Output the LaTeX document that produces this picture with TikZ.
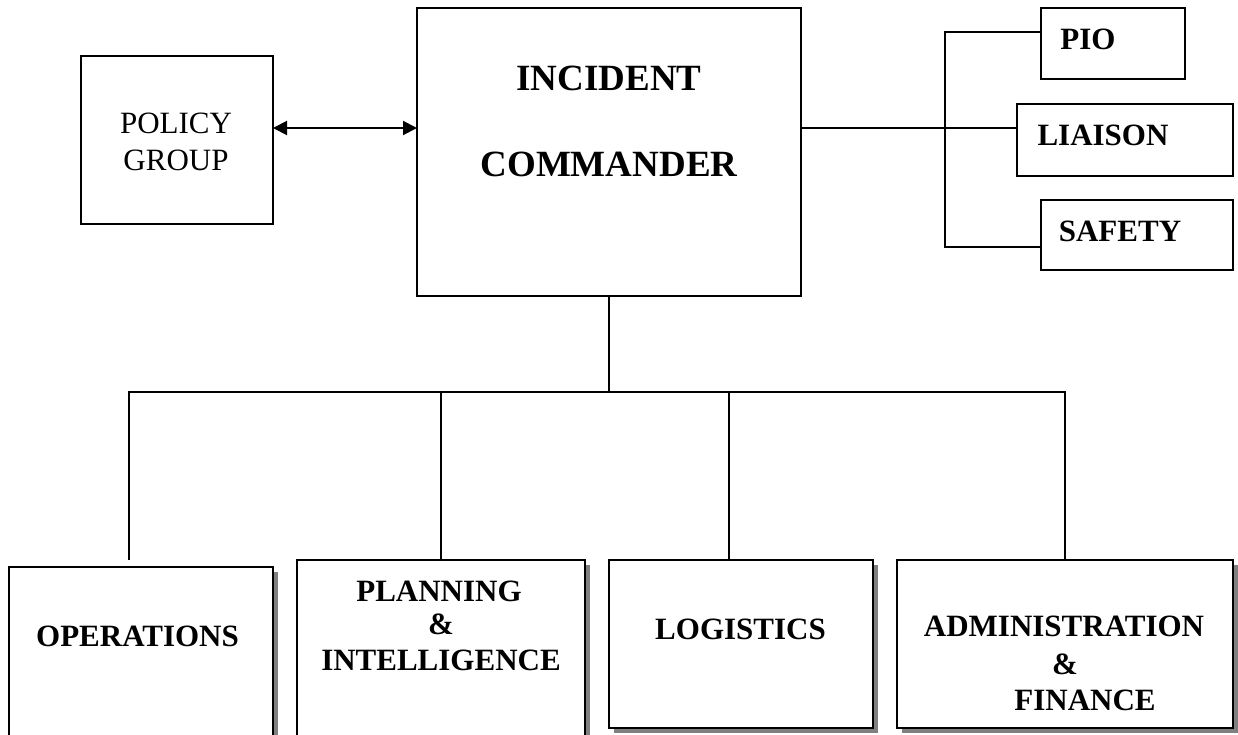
\documentclass[tikz,border=0pt]{standalone}
\usepackage{fontspec}
\setmainfont{Liberation Serif}
\usetikzlibrary{arrows.meta,shadows}
\begin{document}
\begin{tikzpicture}[x=1pt,y=-1pt,
  box/.style={draw, line width=2pt, fill=white, inner sep=0pt, outer sep=0pt},
  sbox/.style={box, drop shadow={shadow xshift=5pt, shadow yshift=-5pt, fill=black!50, opacity=1}},
  conn/.style={line width=2pt},
  dbl/.style={conn, {Triangle[length=14pt,width=14pt]}-{Triangle[length=14pt,width=14pt]}},
  lbl/.style={anchor=base, inner sep=0pt, font=\fontsize{31}{36}\selectfont},
  blbl/.style={lbl, font=\fontsize{31}{36}\selectfont\bfseries},
  tlbl/.style={lbl, font=\fontsize{37}{44}\selectfont\bfseries}]
\clip (0,0) rectangle (1238,734);
\fill[white] (0,0) rectangle (1238,734);

% boxes
\node[box, minimum width=192pt, minimum height=168pt] (policy) at (177,140) {};
\node[box, minimum width=384pt, minimum height=288pt] (ic) at (609,152) {};
\node[box, minimum width=144pt, minimum height=71pt] (pio) at (1113,43.5) {};
\node[box, minimum width=216pt, minimum height=72pt] (liaison) at (1125,140) {};
\node[box, minimum width=192pt, minimum height=70pt] (safety) at (1137,235) {};
\node[sbox, minimum width=264pt, minimum height=193pt] (ops) at (141,663.5) {};
\node[sbox, minimum width=288pt, minimum height=200pt] (plan) at (441,660) {};
\node[sbox, minimum width=264pt, minimum height=168pt] (log) at (741,644) {};
\node[sbox, minimum width=336pt, minimum height=168pt] (admin) at (1065,644) {};

% labels
\node[lbl] (policy-a) at (176,133) {POLICY};
\node[lbl] (policy-b) at (176,170) {GROUP};
\node[tlbl] (ic-a) at (609,90) {INCIDENT};
\node[tlbl] (ic-b) at (609,176.5) {COMMANDER};
\node[blbl] (pio-t) at (1088,49.3) {PIO};
\node[blbl] (liaison-t) at (1103,145) {LIAISON};
\node[blbl] (safety-t) at (1120,241.7) {SAFETY};
\node[blbl] (ops-t) at (137.5,646.7) {OPERATIONS};
\node[blbl] (plan-a) at (439,601) {PLANNING};
\node[blbl] (plan-b) at (441,634) {\&};
\node[blbl] (plan-c) at (441,670) {INTELLIGENCE};
\node[blbl] (log-t) at (740.5,639) {LOGISTICS};
\node[blbl] (admin-a) at (1064,636.7) {ADMINISTRATION};
\node[blbl] (admin-b) at (1065,674) {\&};
\node[blbl] (admin-c) at (1085,710.7) {FINANCE};

% connectors
\coordinate (ay) at (0,128);
\draw[dbl] (policy.east |- ay) -- (ic.west |- ay);
\draw[conn] (ic.east |- ay) -- (liaison.west |- ay);
\coordinate (bt) at (945,32);
\coordinate (bb) at (945,247);
\draw[conn] (pio.west |- bt) -- (bt) -- (bb) -- (safety.west |- bb);

\coordinate (hl) at (129,392);
\coordinate (hr) at (1065,392);
\coordinate (opsend) at (129,560);
\coordinate (lx) at (729,392);
\draw[conn] (ic.south) -- (ic.south |- hl);
\draw[conn] (opsend) -- (hl) -- (hr) -- (admin.north);
\draw[conn] (plan.north |- hl) -- (plan.north);
\draw[conn] (lx) -- (lx |- log.north);
\end{tikzpicture}
\end{document}
